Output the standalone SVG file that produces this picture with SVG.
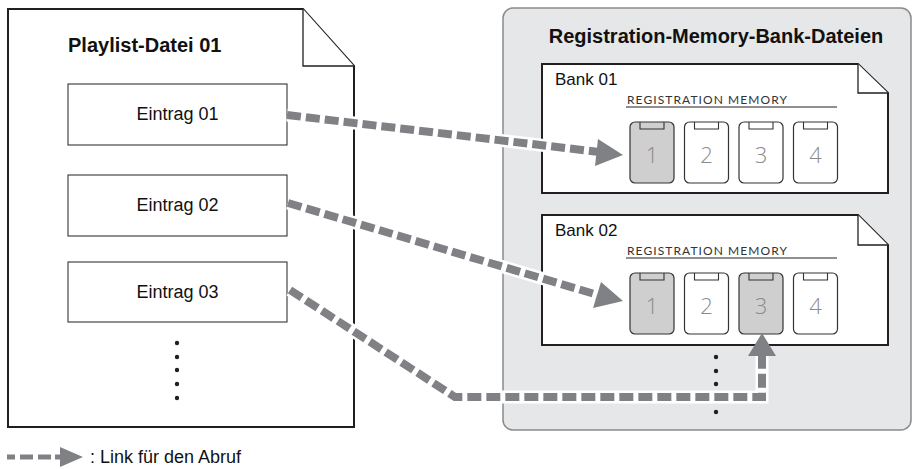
<svg xmlns="http://www.w3.org/2000/svg" width="912" height="469" viewBox="0 0 912 469">
<style>
  .doc{fill:#fff;stroke:#231f20;stroke-width:2;stroke-linejoin:miter}
  .fold{fill:#fff;stroke:#231f20;stroke-width:1.3}
  .entry{fill:#fff;stroke:#231f20;stroke-width:1}
  .t{font-family:"Liberation Sans",Arial,sans-serif;fill:#111}
  .b{font-weight:bold;font-size:20px}
  .e{font-size:18px;text-anchor:middle}
  .bank{font-size:17px}
  .rm{font-family:"Lato","Liberation Sans",sans-serif;font-size:12px;fill:#333}
  .btn{fill:#fff;stroke:#333;stroke-width:1.2}
  .btn.on{fill:#cfcfcf}
  .tab{fill:none;stroke:#333;stroke-width:1.1}
  .num{font-family:"Open Sans","Lato","Liberation Sans",sans-serif;font-weight:300;font-size:22px;fill:#8a8a8a;text-anchor:middle}
  .dot{fill:#231f20}
  .halo{fill:none;stroke:#fff;stroke-width:13;stroke-linejoin:miter}
  .dash{fill:none;stroke:#808184;stroke-width:8;stroke-dasharray:14 5;stroke-linejoin:miter}
  .head{fill:#808184}
</style>

<g id="playlist">
  <path class="doc" d="M8,9 H303 L354,66 V427 H8 Z"/>
  <path class="fold" d="M303,9 V66 H354"/>
  <text class="t b" x="68" y="52">Playlist-Datei 01</text>
</g>
<g id="entry01">
  <rect class="entry" x="68" y="84" width="219" height="61"/>
  <text class="t e" x="177.5" y="120">Eintrag 01</text>
</g>
<g id="entry02">
  <rect class="entry" x="68" y="175" width="219" height="61"/>
  <text class="t e" x="177.5" y="211">Eintrag 02</text>
</g>
<g id="entry03">
  <rect class="entry" x="68" y="262" width="219" height="60"/>
  <text class="t e" x="177.5" y="298">Eintrag 03</text>
</g>
<g id="playlist-more">
  <circle class="dot" cx="177" cy="343" r="2.2"/>
  <circle class="dot" cx="177" cy="357" r="2.2"/>
  <circle class="dot" cx="177" cy="370" r="2.2"/>
  <circle class="dot" cx="177" cy="384" r="2.2"/>
  <circle class="dot" cx="177" cy="398" r="2.2"/>
</g>

<g id="bankfiles">
  <rect x="503" y="8" width="408" height="422" rx="10" fill="#e6e7e8" stroke="#8a8a8a" stroke-width="1.5"/>
  <text class="t b" x="716" y="43" text-anchor="middle">Registration-Memory-Bank-Dateien</text>
</g>

<g id="bank01">
  <path class="doc" d="M542,64 H858 L888,93 V193 H542 Z"/>
  <path class="fold" d="M858,64 V93 H888"/>
  <text class="t bank" x="555" y="85">Bank 01</text>
  <text class="rm" x="627" y="104" textLength="160" lengthAdjust="spacing">REGISTRATION MEMORY</text>
  <line x1="626" y1="107" x2="837" y2="107" stroke="#231f20" stroke-width="1"/>
  <g transform="translate(630,122)">
    <rect class="btn on" x="0" y="0" width="44" height="61" rx="5"/>
    <rect class="btn" x="54.5" y="0" width="44" height="61" rx="5"/>
    <rect class="btn" x="109" y="0" width="44" height="61" rx="5"/>
    <rect class="btn" x="163.5" y="0" width="44" height="61" rx="5"/>
    <path class="tab" d="M10,0 V7 H34 V0 M64.5,0 V7 H88.5 V0 M119,0 V7 H143 V0 M173.5,0 V7 H197.5 V0"/>
    <text class="num" x="22" y="41">1</text>
    <text class="num" x="76.5" y="41">2</text>
    <text class="num" x="131" y="41">3</text>
    <text class="num" x="185.5" y="41">4</text>
  </g>
</g>

<g id="bank02">
  <path class="doc" d="M542,215 H858 L888,245 V345 H542 Z"/>
  <path class="fold" d="M858,215 V245 H888"/>
  <text class="t bank" x="555" y="236">Bank 02</text>
  <text class="rm" x="627" y="255" textLength="160" lengthAdjust="spacing">REGISTRATION MEMORY</text>
  <line x1="626" y1="258" x2="837" y2="258" stroke="#231f20" stroke-width="1"/>
  <g transform="translate(630,273)">
    <rect class="btn on" x="0" y="0" width="44" height="61" rx="5"/>
    <rect class="btn" x="54.5" y="0" width="44" height="61" rx="5"/>
    <rect class="btn on" x="109" y="0" width="44" height="61" rx="5"/>
    <rect class="btn" x="163.5" y="0" width="44" height="61" rx="5"/>
    <path class="tab" d="M10,0 V7 H34 V0 M64.5,0 V7 H88.5 V0 M119,0 V7 H143 V0 M173.5,0 V7 H197.5 V0"/>
    <text class="num" x="22" y="41">1</text>
    <text class="num" x="76.5" y="41">2</text>
    <text class="num" x="131" y="41">3</text>
    <text class="num" x="185.5" y="41">4</text>
  </g>
</g>
<g id="bank-more">
  <circle class="dot" cx="716" cy="357" r="2.2"/>
  <circle class="dot" cx="716" cy="371" r="2.2"/>
  <circle class="dot" cx="716" cy="384" r="2.2"/>
  <circle class="dot" cx="716" cy="399" r="2.2"/>
  <circle class="dot" cx="716" cy="412" r="2.2"/>
</g>

<g id="connectors">
  <path class="halo" d="M287,115 L599,152"/>
  <path class="dash" d="M287,115 L599,152"/>
  <polygon class="head" points="598,139 623,155 595,166"/>

  <path class="halo" d="M288,203 L598,295"/>
  <path class="dash" d="M288,203 L598,295"/>
  <polygon class="head" points="601,282 623,301 593,308"/>

  <path class="halo" d="M290,290 L455,397 H762 V356"/>
  <path class="dash" d="M290,290 L455,397 H762 V356"/>
  <polygon class="head" points="748,356 762,333 776,356"/>
</g>

<g id="legend">
  <path d="M7,457 H60" fill="none" stroke="#808184" stroke-width="5" stroke-dasharray="8 5 13 5 13 4 5 100"/>
  <polygon class="head" points="60,447 83,457 60,467"/>
  <text class="t" x="90" y="463" font-size="18">: Link für den Abruf</text>
</g>
</svg>
